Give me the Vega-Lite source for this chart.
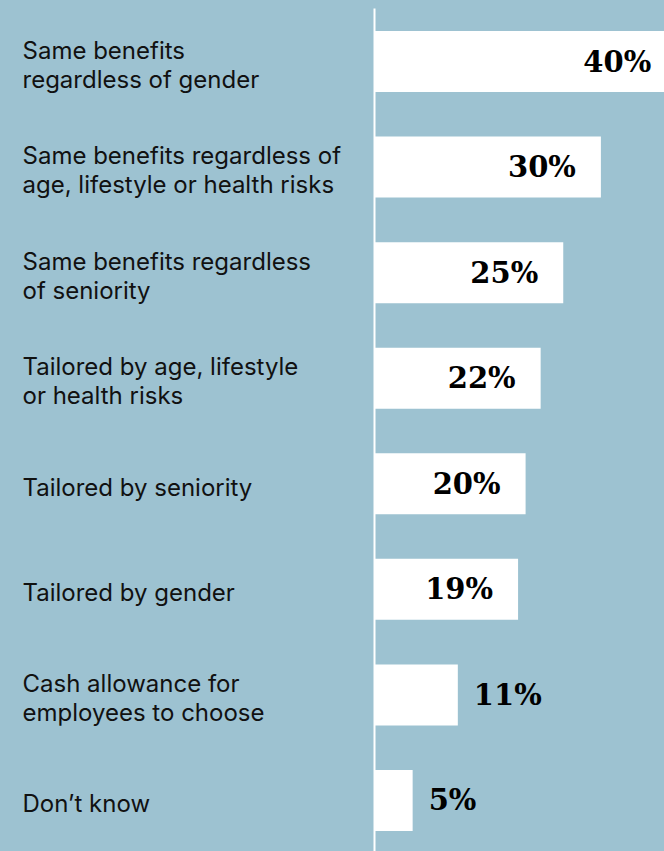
{
  "$schema": "https://vega.github.io/schema/vega-lite/v6.json",
  "width": 289,
  "height": 843,
  "autosize": {"type": "none"},
  "padding": {"left": 375, "top": 8, "right": 0, "bottom": 0},
  "background": "#9DC2D1",
  "config": {"view": {"stroke": null}},
  "data": {
    "values": [
      {"category": "Same benefits|regardless of gender", "value": 40, "pct": "40%"},
      {"category": "Same benefits regardless of|age, lifestyle or health risks", "value": 30, "pct": "30%"},
      {"category": "Same benefits regardless|of seniority", "value": 25, "pct": "25%"},
      {"category": "Tailored by age, lifestyle|or health risks", "value": 22, "pct": "22%"},
      {"category": "Tailored by seniority", "value": 20, "pct": "20%"},
      {"category": "Tailored by gender", "value": 19, "pct": "19%"},
      {"category": "Cash allowance for|employees to choose", "value": 11, "pct": "11%"},
      {"category": "Don’t know", "value": 5, "pct": "5%"}
    ]
  },
  "encoding": {
    "y": {
      "field": "category",
      "type": "nominal",
      "sort": null,
      "scale": {"paddingInner": 0.422, "paddingOuter": 0.2037, "align": 0.535},
      "axis": {
        "title": null,
        "orient": "left",
        "domain": true,
        "domainColor": "#FFFFFF",
        "domainWidth": 2,
        "offset": 1,
        "ticks": false,
        "tickSize": 0,
        "grid": false,
        "labelAlign": "left",
        "labelBaseline": "middle",
        "labelPadding": 352,
        "labelOffset": {"condition": {"test": "indexof(datum.label, '|') >= 0", "value": -10}, "value": 5},
        "labelFont": "Inter",
        "labelFontSize": 24,
        "labelLineHeight": 29,
        "labelColor": "#111111",
        "labelLimit": 0,
        "labelOverlap": false,
        "labelBound": false,
        "labelExpr": "split(datum.label, '|')"
      }
    },
    "x": {
      "field": "value",
      "type": "quantitative",
      "scale": {"domain": [0, 38.38], "nice": false, "zero": true},
      "axis": null
    }
  },
  "layer": [
    {"mark": {"type": "bar", "color": "#FFFFFF", "clip": true}},
    {
      "transform": [{"filter": "datum.value >= 15"}],
      "mark": {"type": "text", "align": "right", "baseline": "middle", "dx": -25, "dy": 1, "font": "DejaVu Serif", "fontWeight": "bold", "fontSize": 29, "color": "#000000"},
      "encoding": {"text": {"field": "pct"}}
    },
    {
      "transform": [{"filter": "datum.value < 15"}],
      "mark": {"type": "text", "align": "left", "baseline": "middle", "dx": 16, "dy": 1, "font": "DejaVu Serif", "fontWeight": "bold", "fontSize": 29, "color": "#000000"},
      "encoding": {"text": {"field": "pct"}}
    }
  ]
}
